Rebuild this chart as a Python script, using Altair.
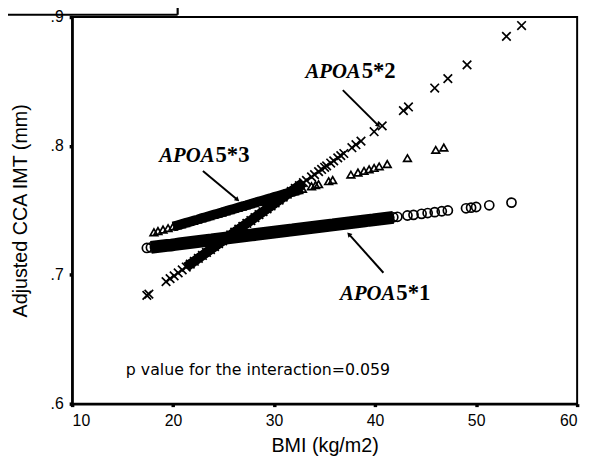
import altair as alt
import pandas as pd

# ---------------- data ----------------
# APOA5*1 (circles)
c_bmi = [17.4, 17.8, 18.2, 18.6, 19.0, 19.4, 19.8, 20.2, 20.6, 21.0, 21.4, 21.8, 22.2, 22.6,
         23.0, 23.4, 23.8, 24.2, 24.6, 25.0, 25.4, 25.8, 26.2, 26.6, 27.0, 27.4, 27.8, 28.2,
         28.6, 29.0, 29.4, 29.8, 30.2, 30.6, 31.0, 31.4, 31.8, 32.2, 32.6, 33.0, 33.4, 33.8,
         34.2, 34.6, 35.0, 35.4, 35.8, 36.2, 36.6, 37.0, 37.4, 37.8, 38.2, 38.6, 39.0, 39.4,
         39.8, 40.2, 40.6, 41.0, 41.4, 41.8, 42.2, 43.2, 43.8, 44.6, 45.2, 45.9, 46.6, 47.2,
         49.0, 49.5, 50.0, 51.3, 53.5]
c_imt = [.7208, .7212, .7216, .7220, .7224, .7228, .7231, .7235, .7239, .7243, .7247, .7251,
         .7255, .7259, .7263, .7267, .7270, .7274, .7278, .7282, .7286, .7290, .7294, .7298,
         .7302, .7306, .7309, .7313, .7317, .7321, .7325, .7329, .7333, .7337, .7341, .7345,
         .7348, .7352, .7356, .7360, .7364, .7368, .7372, .7376, .7380, .7384, .7387, .7391,
         .7395, .7399, .7403, .7407, .7411, .7415, .7419, .7423, .7426, .7430, .7434, .7438,
         .7442, .7446, .7450, .7460, .7465, .7473, .7479, .7486, .7493, .7499,
         .7516, .7521, .7526, .7539, .7560]

# APOA5*3 (triangles)
t_bmi = [18.1, 18.5, 19.0, 19.5, 20.0, 20.4, 20.8, 21.2, 21.6, 22.0, 22.4, 22.8, 23.2, 23.6,
         24.0, 24.4, 24.8, 25.2, 25.6, 26.0, 26.4, 26.8, 27.2, 27.6, 28.0, 28.4, 28.8, 29.2,
         29.6, 30.0, 30.4, 30.8, 31.2, 31.6, 32.0, 32.4, 32.8, 33.7, 34.1, 34.4, 35.4, 35.8,
         37.6, 38.3, 38.9, 39.4, 39.9, 40.4, 41.2, 43.2, 46.0, 46.8]
t_imt = [.7330, .7339, .7351, .7362, .7374, .7383, .7392, .7401, .7410, .7419, .7428, .7438,
         .7447, .7456, .7465, .7474, .7483, .7493, .7502, .7511, .7520, .7529, .7538, .7548,
         .7557, .7566, .7575, .7584, .7593, .7603, .7612, .7621, .7630, .7639, .7648, .7657,
         .7667, .7687, .7696, .7703, .7726, .7735, .7777, .7793, .7806, .7818, .7829, .7841,
         .7859, .7905, .7969, .7987]

# APOA5*2 (crosses)
x_bmi = [17.4, 17.6, 19.3, 19.7, 20.1, 20.5, 20.9, 21.3, 21.7, 22.1, 22.5, 22.9, 23.3, 23.7,
         24.1, 24.5, 24.9, 25.3, 25.7, 26.1, 26.5, 26.9, 27.3, 27.7, 28.1, 28.5, 28.9, 29.3,
         29.7, 30.1, 30.5, 30.9, 31.3, 31.7, 32.1, 32.5, 32.9, 33.2, 33.7, 34.0, 34.4, 34.7,
         35.0, 35.2, 35.6, 35.9, 36.3, 36.6, 36.9, 37.7, 38.1, 38.6, 39.9, 40.7, 42.8, 43.3,
         45.9, 47.2, 49.1, 53.0, 54.5]
x_imt = [.6840, .6850, .6947, .6970, .6992, .7015, .7038, .7060, .7083, .7105, .7128, .7150,
         .7173, .7196, .7218, .7241, .7263, .7286, .7309, .7331, .7354, .7376, .7399, .7421,
         .7444, .7467, .7489, .7512, .7534, .7557, .7580, .7602, .7625, .7647, .7670, .7692,
         .7715, .7732, .7760, .7777, .7800, .7817, .7834, .7845, .7867, .7884, .7907, .7924,
         .7941, .7986, .8009, .8037, .8110, .8155, .8274, .8302, .8449, .8522, .8629, .8850,
         .8934]

groups = ["APOA5*1", "APOA5*3", "APOA5*2"]
band_lo = [17.6, 20.0, 21.0]
band_hi = [41.8, 32.8, 32.9]

x_ticks = [10, 20, 30, 40, 50, 60]
y_ticks = [0.6, 0.7, 0.8, 0.9]

# annotation labels
lab_a = ["APOA", "APOA", "APOA"]
lab_b = ["5*1", "5*3", "5*2"]
lab_x = [42.0, 24.1, 38.57]
lab_y = [0.6802, 0.7874, 0.8525]
arr_x = [40.82, 22.95, 36.80]
arr_y = [0.7016, 0.7805, 0.8433]
arr_x2 = [37.40, 26.37, 40.33]
arr_y2 = [0.7315, 0.7582, 0.8157]
arr_angle = [318, 130, 136]

p_text = "p value for the interaction=0.059"
p_x = [15.32]
p_y = [0.6224]

# ---------------- tables ----------------
rows = []
for g, bl, bh, bs, vs in zip(groups, band_lo, band_hi, [c_bmi, t_bmi, x_bmi], [c_imt, t_imt, x_imt]):
    for b, v in zip(bs, vs):
        rows.append({"group": g, "bmi": b, "imt": v, "band": bl <= b <= bh})
df = pd.DataFrame(rows)

lab_df = pd.DataFrame({"a": lab_a, "b": lab_b, "bmi": lab_x, "imt": lab_y})
arr_df = pd.DataFrame({"bmi": arr_x, "imt": arr_y, "bmi2": arr_x2, "imt2": arr_y2, "angle": arr_angle})
p_df = pd.DataFrame({"t": [p_text], "bmi": p_x, "imt": p_y})

xscale = alt.Scale(domain=[10, 60], nice=False, zero=False)
yscale = alt.Scale(domain=[0.6, 0.9], nice=False, zero=False)
xaxis = alt.Axis(values=x_ticks, title="BMI (kg/m2)", titlePadding=8)
yaxis = alt.Axis(values=y_ticks, title="Adjusted CCA IMT (mm)", titlePadding=20,
                 labelExpr="replace(format(datum.value, '.1f'), '0.', '.')")


def X(f="bmi"):
    return alt.X(f, type="quantitative", scale=xscale, axis=xaxis)


def Y(f="imt"):
    return alt.Y(f, type="quantitative", scale=yscale, axis=yaxis)


base = alt.Chart(df)
layers = []
band_w = {"APOA5*1": 13, "APOA5*3": 10, "APOA5*2": 10}
for g in groups:
    layers.append(
        base.transform_filter((alt.datum.group == g) & alt.datum.band)
        .mark_line(color="black", strokeWidth=band_w[g], strokeCap="butt")
        .encode(x=X(), y=Y(), order="bmi:Q")
    )

layers.append(
    base.transform_filter(alt.datum.group == "APOA5*1")
    .mark_point(shape="circle", size=85, filled=False, color="black", strokeWidth=1.7, opacity=1)
    .encode(x=X(), y=Y())
)
layers.append(
    base.transform_filter(alt.datum.group == "APOA5*3")
    .mark_point(shape="triangle-up", size=60, filled=False, color="black", strokeWidth=1.7, opacity=1)
    .encode(x=X(), y=Y())
)
layers.append(
    base.transform_filter(alt.datum.group == "APOA5*2")
    .mark_point(shape="M-1,-1L1,1M1,-1L-1,1", size=75, filled=False, color="black", strokeWidth=1.7, opacity=1)
    .encode(x=X(), y=Y())
)

# annotations
lab = alt.Chart(lab_df)
layers.append(
    lab.mark_text(align="right", baseline="alphabetic", font="Liberation Serif", fontSize=21,
                  fontStyle="italic", fontWeight="bold", color="black")
    .encode(x=X(), y=Y(), text="a")
)
layers.append(
    lab.mark_text(align="left", baseline="alphabetic", font="Liberation Serif", fontSize=23, dx=1,
                  fontWeight="bold", color="black")
    .encode(x=X(), y=Y(), text="b")
)
arr = alt.Chart(arr_df)
layers.append(arr.mark_rule(color="black", strokeWidth=2).encode(x=X(), y=Y(), x2="bmi2", y2="imt2"))
layers.append(
    arr.mark_point(shape="triangle-up", size=30, filled=True, color="black", opacity=1)
    .encode(x=X("bmi2"), y=Y("imt2"), angle=alt.Angle("angle:Q", scale=None))
)
layers.append(
    alt.Chart(p_df).mark_text(align="left", baseline="alphabetic", font="DejaVu Sans", fontSize=16,
                              color="black")
    .encode(x=X(), y=Y(), text="t")
)

# fragment of a box at the top left corner
layers.append(alt.Chart(p_df).mark_rule(color="black", strokeWidth=2.2).encode(
    x=alt.value(-70), x2=alt.value(107), y=alt.value(-2.3), y2=alt.value(-2.3)))
layers.append(alt.Chart(p_df).mark_rule(color="black", strokeWidth=2.2).encode(
    x=alt.value(107), x2=alt.value(107), y=alt.value(-10), y2=alt.value(-2.3)))

chart = alt.layer(*layers).properties(
    width=512, height=392, autosize="none",
    padding={"left": 65, "top": 6, "right": 10, "bottom": 56},
).configure_view(stroke="black", strokeWidth=2).configure_axis(
    grid=False, domainColor="black", domainWidth=2.5, tickColor="black", tickWidth=3.5, tickSize=3,
    labelColor="black", labelFont="Liberation Sans", labelFontSize=16, labelPadding=6,
    titleColor="black", titleFont="Liberation Sans", titleFontSize=20, titleFontWeight="normal",
)

chart.save("out.html", embed_options={"renderer": "svg", "actions": False})
